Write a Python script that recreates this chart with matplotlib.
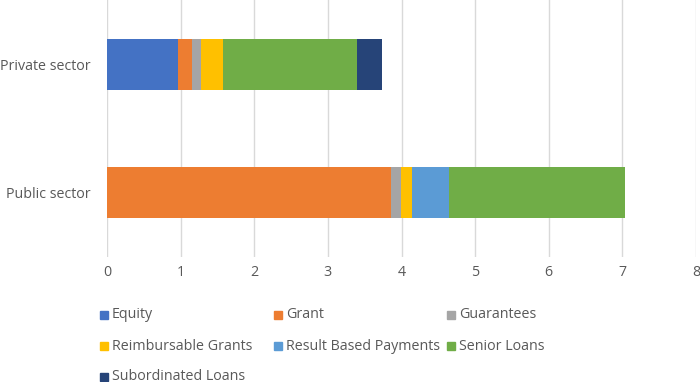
import matplotlib.pyplot as plt
from matplotlib.patches import Rectangle

plt.rcParams['font.family'] = ['Open Sans', 'DejaVu Sans']

sectors = ['Public sector', 'Private sector']
series = ['Equity', 'Grant', 'Guarantees', 'Reimbursable Grants',
          'Result Based Payments', 'Senior Loans', 'Subordinated Loans']
colors = ['#4472C4', '#ED7D31', '#A5A5A5', '#FFC000', '#5B9BD5', '#70AD47', '#264478']

# values per series: [public, private]
equity = [0.0, 0.96]
grant = [3.86, 0.20]
guarantees = [0.13, 0.12]
reimbursable = [0.15, 0.29]
result_based = [0.50, 0.0]
senior = [2.39, 1.83]
subordinated = [0.0, 0.34]
values = [equity, grant, guarantees, reimbursable, result_based, senior, subordinated]

xticks = list(range(0, 9))

W, H = 700, 382
fig = plt.figure(figsize=(W / 100, H / 100), dpi=100)
ax = fig.add_axes([107 / W, 1 - 257 / H, (696 - 107) / W, 257 / H])

left = [0.0, 0.0]
for name, vals, c in zip(series, values, colors):
    ax.barh(sectors, vals, left=left, color=c, height=0.4, zorder=3)
    left = [l + v for l, v in zip(left, vals)]

ax.set_xlim(0, 8)
ax.set_ylim(-0.5, 1.5)
ax.set_xticks(xticks)
ax.grid(axis='x', color='#D9D9D9', linewidth=1, zorder=0)
for s in ax.spines.values():
    s.set_visible(False)
ax.tick_params(length=0, colors='#595959', labelsize=10.3)
ax.tick_params(axis='x', pad=6)
ax.tick_params(axis='y', pad=11.5)

# legend laid out row by row, 3 columns, like the original
col_x = [100, 274, 447]
row_y = [315, 346, 377]
for i, (name, c) in enumerate(zip(series, colors)):
    x = col_x[i % 3]
    y = row_y[i // 3]
    fig.add_artist(Rectangle((x / W, 1 - (y + 4) / H), 8 / W, 8 / H,
                             transform=fig.transFigure, color=c))
    fig.text((x + 12) / W, 1 - y / H, name, va='center', ha='left',
             fontsize=10.3, color='#595959')

fig.savefig('out.png', dpi=100)
